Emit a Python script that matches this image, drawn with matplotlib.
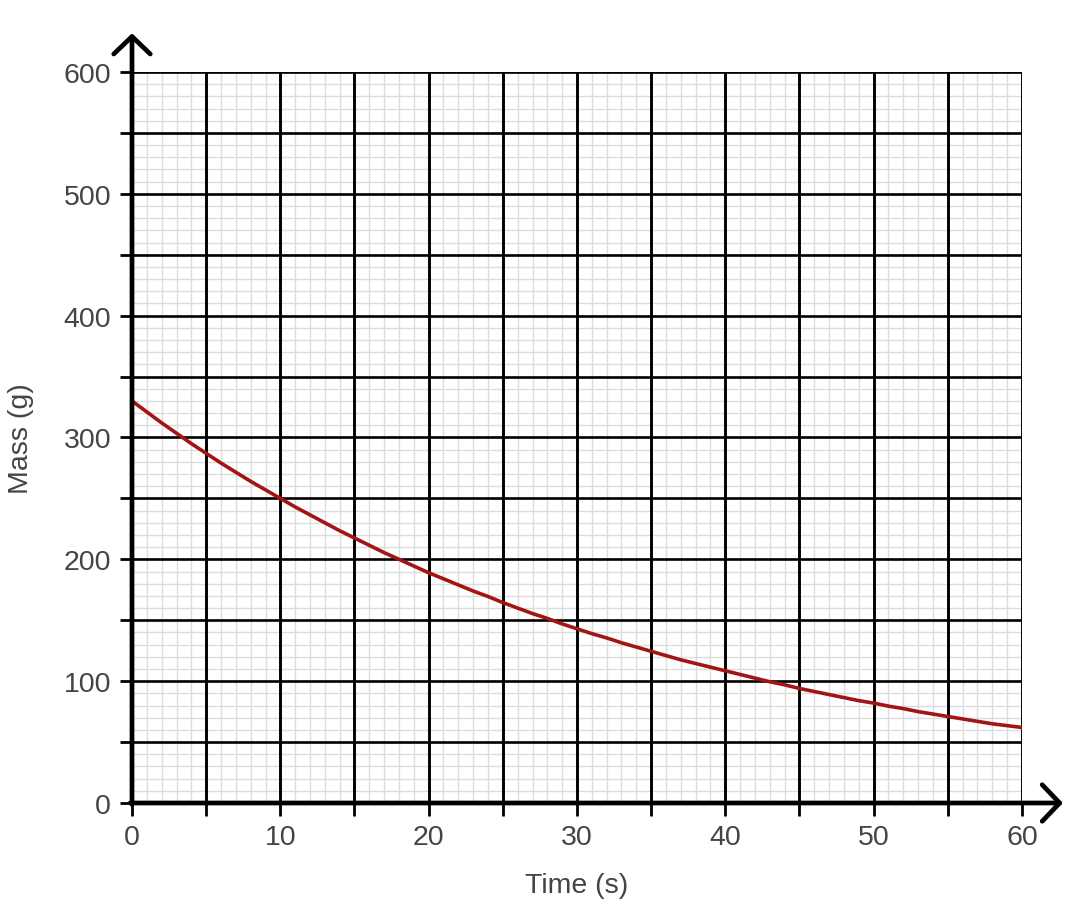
import matplotlib
matplotlib.use('Agg')
import matplotlib.pyplot as plt
from matplotlib.ticker import MultipleLocator, FuncFormatter

# values
time_s = list(range(0, 61))
mass_g = [330, 321, 312, 303.5, 295, 287, 279, 271.5, 264, 257,
          250, 243, 236.5, 230, 223.5, 217.5, 211.5, 205.5, 200, 194.5,
          189, 184, 179, 174, 169.5, 164.5, 160, 155.5, 151.5, 147,
          143, 139, 135.5, 131.5, 128, 124.5, 121, 117.5, 114.5, 111.5,
          108.5, 105.5, 102.5, 99.5, 97, 94, 91.5, 89, 86.5, 84,
          82, 79.5, 77.5, 75, 73, 71, 69, 67, 65, 63.5, 62]
x_label = 'Time (s)'
y_label = 'Mass (g)'

plt.rcParams['font.family'] = ['Liberation Sans', 'DejaVu Sans']
txt = '#444444'

fig = plt.figure(figsize=(10.66, 9.04), dpi=100)
ax = fig.add_axes([132/1066, 1-804/904, 890/1066, 731/904])

ax.set_xlim(0, 60)
ax.set_ylim(0, 600)

ax.xaxis.set_major_locator(MultipleLocator(5))
ax.xaxis.set_minor_locator(MultipleLocator(1))
ax.yaxis.set_major_locator(MultipleLocator(50))
ax.yaxis.set_minor_locator(MultipleLocator(10))
ax.xaxis.set_major_formatter(FuncFormatter(lambda v, p: '%d' % v if round(v) % 10 == 0 else ''))
ax.yaxis.set_major_formatter(FuncFormatter(lambda v, p: '%d' % v if round(v) % 100 == 0 else ''))

# fine grid, then the heavy lines on top of it
ax.grid(which='minor', color='#dcdcdc', linewidth=1.0, zorder=0)
ax.set_axisbelow(True)
for xv in ax.get_xticks():
    if 0 < xv <= 60:
        ax.axvline(xv, color='black', linewidth=2.1, zorder=2)
for yv in ax.get_yticks():
    if 0 < yv <= 600:
        ax.axhline(yv, color='black', linewidth=1.9, zorder=2)

ax.tick_params(which='major', direction='out', length=9, width=2, colors='black',
               labelsize=20.5, labelcolor=txt, pad=6)
ax.tick_params(which='minor', length=0)

for s in ax.spines.values():
    s.set_visible(False)

# axis arrows
arr = dict(arrowstyle='->,head_length=0.45,head_width=0.47', lw=3.4, color='black',
           mutation_scale=28, shrinkA=0, shrinkB=0)
ax.annotate('', xy=(0, 1.053), xytext=(0, -0.002), xycoords='axes fraction',
            arrowprops=arr, annotation_clip=False, zorder=5)
ax.annotate('', xy=(1.046, 0), xytext=(-0.002, 0), xycoords='axes fraction',
            arrowprops=arr, annotation_clip=False, zorder=5)

ax.plot(time_s, mass_g, color='#a31515', linewidth=2.6, zorder=4)

ax.set_xlabel(x_label, fontsize=20.5, color=txt, labelpad=16)
ax.set_ylabel(y_label, fontsize=20.5, color=txt, labelpad=21)

fig.savefig('out.png', dpi=100)
